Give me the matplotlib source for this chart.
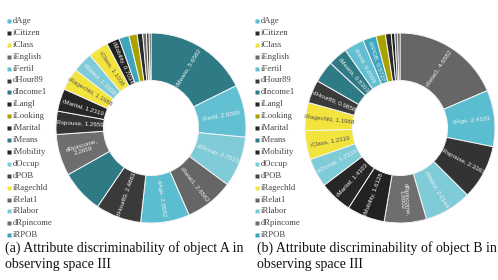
import numpy as np
import matplotlib
matplotlib.use("Agg")
import matplotlib.pyplot as plt

# colours per attribute
colors = {
    'dAge': '#5bbdd0', 'iCitizen': '#2a2a2a', 'iClass': '#f2e43c', 'iEnglish': '#6b6b6b',
    'iFertil': '#62c0d2', 'dHour89': '#3a3a3a', 'dIncome1': '#2e7b86', 'iLangl': '#222222',
    'iLooking': '#a8a100', 'iMarital': '#262626', 'iMeans': '#2e7b86', 'iMobility': '#222222',
    'dOccup': '#7fcbd8', 'dPOB': '#444444', 'iRagechld': '#f2e43c', 'iRelat1': '#666666',
    'iRlabor': '#7fcbd8', 'dRpincome': '#6e6e6e', 'iRPOB': '#3ea5bc', 'iRspouse': '#333333',
}
legend_names = ['dAge', 'iCitizen', 'iClass', 'iEnglish', 'iFertil', 'dHour89', 'dIncome1',
                'iLangl', 'iLooking', 'iMarital', 'iMeans', 'iMobility', 'dOccup', 'dPOB',
                'iRagechld', 'iRelat1', 'iRlabor', 'dRpincome', 'iRPOB']

# object A (clockwise from top)
names_a = ['iMeans', 'iFertil', 'dOccup', 'iRelat1', 'dAge', 'dHour89', 'dIncome1', 'dRpincome',
           'iRspouse', 'iMarital', 'iRagechld', 'iRlabor', 'iClass', 'iMobility',
           'iRPOB', 'iLooking', 'iCitizen', 'iEnglish', 'dPOB', 'iLangl']
values_a = [5.6582, 2.8509, 2.7513, 2.6582, 2.6582, 2.4863, 2.35, 2.2659,
            1.2659, 1.2319, 1.1988, 1.1036, 1.1038, 0.7034,
            0.55, 0.45, 0.3, 0.2, 0.15, 0.1]
shown_a = ['iMeans', 'iFertil', 'dOccup', 'iRelat1', 'dAge', 'dHour89', 'dRpincome',
           'iRspouse', 'iMarital', 'iRagechld', 'iRlabor', 'iClass', 'iMobility']

# object B
names_b = ['iRelat1', 'dAge', 'iRspouse', 'iRlabor', 'dRpincome', 'iMobility', 'iMarital',
           'dOccup', 'iClass', 'iRagechld', 'dHour89', 'dIncome1', 'iMeans', 'iFertil',
           'iRPOB', 'iLooking', 'iCitizen', 'iLangl', 'iEnglish', 'dPOB']
values_b = [4.6582, 2.4103, 2.3363, 2.0144, 1.8002, 1.6128, 1.4103,
            1.2319, 1.2319, 1.1988, 0.9858, 0.93, 0.8303, 0.8509,
            0.5727, 0.40, 0.25, 0.15, 0.12, 0.1]
shown_b = ['iRelat1', 'dAge', 'iRspouse', 'iRlabor', 'dRpincome', 'iMobility', 'iMarital',
           'dOccup', 'iClass', 'iRagechld', 'dHour89', 'iMeans', 'iFertil', 'iRPOB']

captions = [['(a) Attribute discriminability of object A in', 'observing space III'],
            ['(b) Attribute discriminability of object B in', 'observing space III']]

W, H = 498, 280
fig = plt.figure(figsize=(W / 100, H / 100), dpi=100)


def donut(cx, cy, R, names, values, shown):
    ax = fig.add_axes([(cx - R) / W, (H - cy - R) / H, 2 * R / W, 2 * R / H])
    wedges, _ = ax.pie(values, colors=[colors[n] for n in names], startangle=90,
                       counterclock=False, radius=1,
                       wedgeprops=dict(width=0.5, edgecolor='#f4f4f4', linewidth=0.7))
    for w, n, v in zip(wedges, names, values):
        if n not in shown:
            continue
        th = 0.5 * (w.theta1 + w.theta2)
        t = np.deg2rad(th)
        rot = th % 360
        if 90 < rot < 270:
            rot += 180
        txt = '%s, %.4f' % (n, v)
        if n == 'dRpincome':
            txt = '%s,\n%.4f' % (n, v)
        tc = '#555555' if colors[n] == '#f2e43c' else '#f2f2f2'
        ax.text(0.75 * np.cos(t), 0.75 * np.sin(t), txt, rotation=rot, rotation_mode='anchor',
                ha='center', va='center', fontsize=4.5, color=tc,
                family='Liberation Sans', linespacing=1.0)
    ax.set_xlim(-1.0, 1.0)
    ax.set_ylim(-1.0, 1.0)
    ax.set_axis_off()


donut(151, 128, 95, names_a, values_a, shown_a)
donut(400, 128, 95, names_b, values_b, shown_b)

# legends and captions
lax = fig.add_axes([0, 0, 1, 1])
lax.set_xlim(0, W)
lax.set_ylim(H, 0)
lax.set_axis_off()
for x0 in (9, 257):
    for i, n in enumerate(legend_names):
        y = 21 + i * 11.9
        lax.plot(x0, y, marker='s', ms=2.2, color=colors[n], mec='none')
        lax.text(x0 + 4, y, n, fontsize=6.2, family='Liberation Serif', va='center',
                 ha='left', color='#444444')
for x0, cap in zip((5, 257), captions):
    for j, line in enumerate(cap):
        lax.text(x0, 252 + 16 * j, line, fontsize=10, family='Liberation Serif',
                 va='baseline', ha='left', color='#111111')

fig.savefig('out.png', dpi=100)
